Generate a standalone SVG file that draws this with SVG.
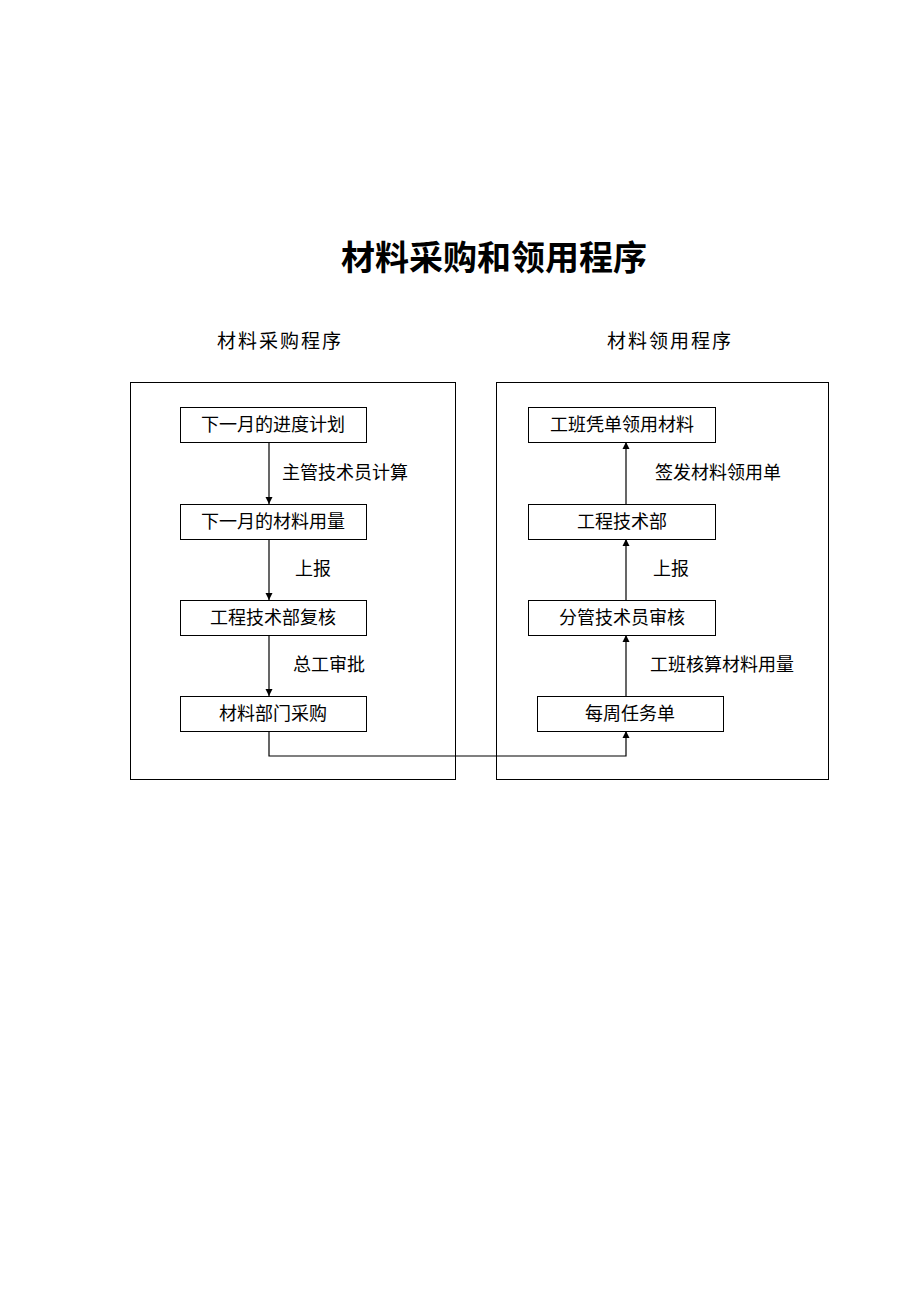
<svg xmlns="http://www.w3.org/2000/svg" width="920" height="1302" viewBox="0 0 920 1302">
<style>
text{font-family:"Liberation Serif","Noto Sans CJK SC",serif;fill:#000}
.n{font-size:18px;text-anchor:middle}
.l{font-size:18px}
.b{fill:#fff;stroke:#000;stroke-width:1}
.c{fill:none;stroke:#000;stroke-width:1.2;marker-end:url(#a)}
</style>
<defs><marker id="a" viewBox="0 0 10 10" refX="10" refY="5" markerWidth="7" markerHeight="8" orient="auto" markerUnits="userSpaceOnUse"><path d="M0,0L10,5L0,10z" fill="#000"/></marker></defs>
<rect width="920" height="1302" fill="#fff"/>
<text x="494" y="270" style="font-size:34px;font-weight:bold;text-anchor:middle">材料采购和领用程序</text>
<text x="280" y="348" style="font-size:19px;text-anchor:middle;letter-spacing:2px">材料采购程序</text>
<text x="670" y="348" style="font-size:19px;text-anchor:middle;letter-spacing:2px">材料领用程序</text>
<rect x="130.5" y="382.5" width="325" height="397" class="b"/>
<rect x="496.5" y="382.5" width="332" height="397" class="b"/>
<g id="connectors">
<path class="c" d="M269,442V504"/>
<path class="c" d="M269,539V600"/>
<path class="c" d="M269,635V696"/>
<path class="c" d="M269,731V756H626V731"/>
<path class="c" d="M626,696V635"/>
<path class="c" d="M626,600V539"/>
<path class="c" d="M626,504V442"/>
<text class="l" x="282" y="479">主管技术员计算</text>
<text class="l" x="295" y="575">上报</text>
<text class="l" x="293" y="671">总工审批</text>
<text class="l" x="655" y="479">签发材料领用单</text>
<text class="l" x="653" y="575">上报</text>
<text class="l" x="650" y="671">工班核算材料用量</text>
</g>
<g id="n1"><rect class="b" x="180.5" y="407.5" width="186" height="35"/><text class="n" x="273" y="431">下一月的进度计划</text></g>
<g id="n2"><rect class="b" x="180.5" y="504.5" width="186" height="35"/><text class="n" x="273" y="528">下一月的材料用量</text></g>
<g id="n3"><rect class="b" x="180.5" y="600.5" width="186" height="35"/><text class="n" x="273" y="624">工程技术部复核</text></g>
<g id="n4"><rect class="b" x="180.5" y="696.5" width="186" height="35"/><text class="n" x="273" y="720">材料部门采购</text></g>
<g id="r1"><rect class="b" x="528.5" y="407.5" width="187" height="35"/><text class="n" x="622" y="431">工班凭单领用材料</text></g>
<g id="r2"><rect class="b" x="528.5" y="504.5" width="187" height="35"/><text class="n" x="622" y="528">工程技术部</text></g>
<g id="r3"><rect class="b" x="528.5" y="600.5" width="187" height="35"/><text class="n" x="622" y="624">分管技术员审核</text></g>
<g id="r4"><rect class="b" x="537.5" y="696.5" width="186" height="35"/><text class="n" x="630" y="720">每周任务单</text></g>
</svg>
